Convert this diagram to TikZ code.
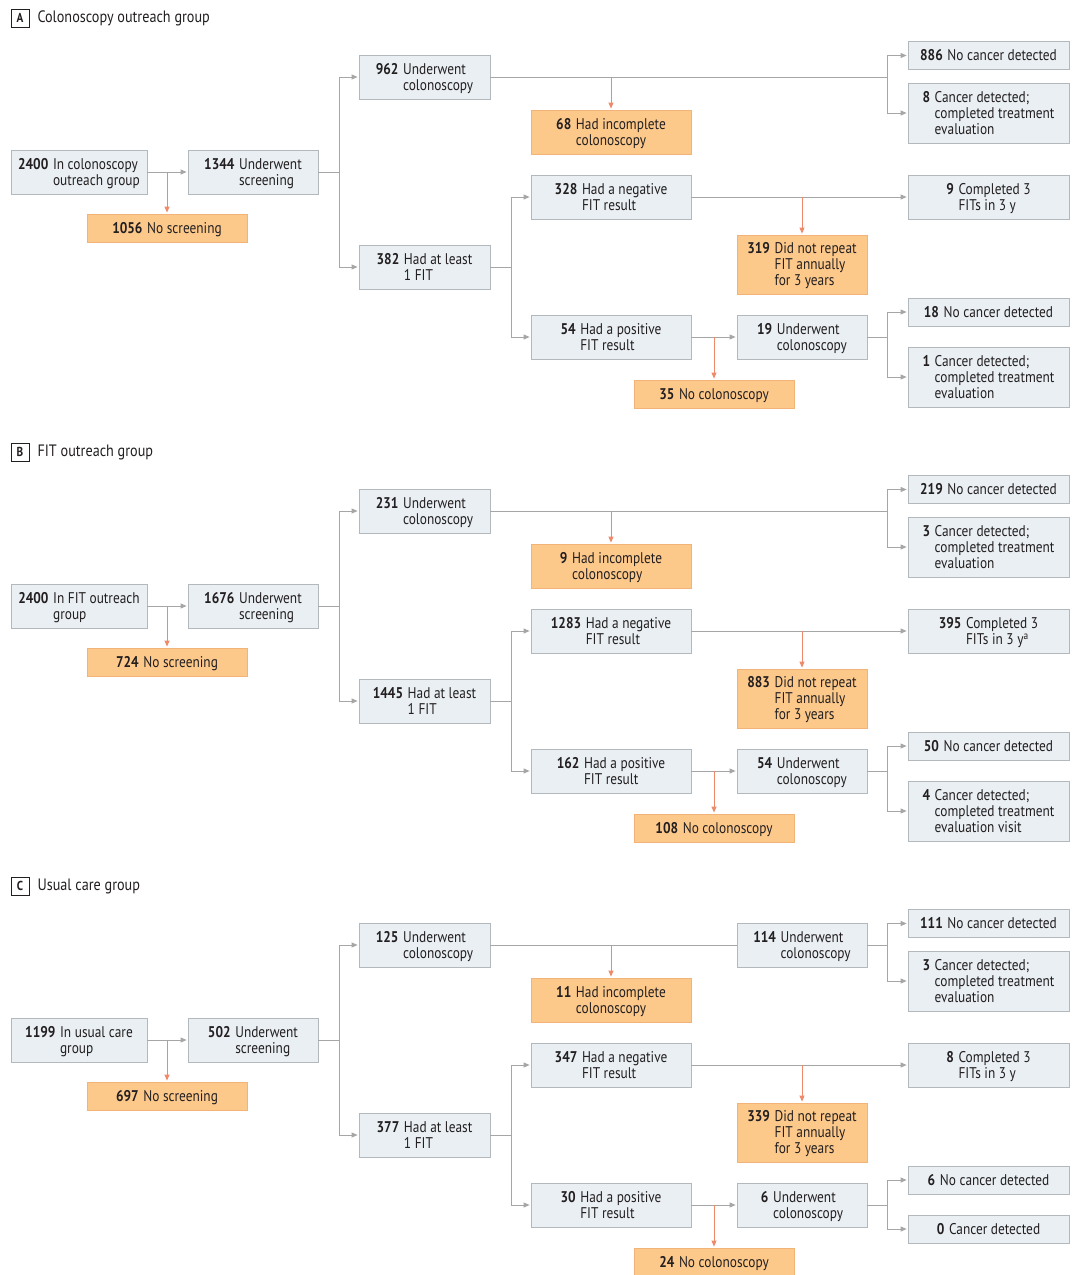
\documentclass[tikz,border=0pt]{standalone}
\usepackage{fontspec}
\setmainfont{PT Sans}[FakeStretch=0.86]
\usetikzlibrary{arrows.meta}

\definecolor{boxfill}{HTML}{E9EFF3}
\definecolor{boxline}{HTML}{B3B8BC}
\definecolor{lostfill}{HTML}{FDC98B}
\definecolor{lostline}{HTML}{F2B378}
\definecolor{flowline}{HTML}{A6A6A6}
\definecolor{dropline}{HTML}{EE8A6A}
\definecolor{ink}{HTML}{231F20}

% count in bold, text beside it
\newcommand{\fcnt}[2]{\rule{0pt}{15.6pt}\textbf{#1}\hspace{0.3em}\begin{tabular}[t]{@{}l@{}}#2\end{tabular}}

\tikzset{
  stage/.style={draw=boxline, fill=boxfill, line width=0.8pt, inner sep=0pt, minimum height=44, text=ink},
  lost/.style={stage, draw=lostline, fill=lostfill},
  flow/.style={draw=flowline, line width=0.9pt, -{Triangle[length=6pt,width=5pt]}, shorten >=1pt},
  drop/.style={draw=dropline, line width=0.9pt, -{Triangle[length=6pt,width=5pt]}, shorten >=1pt},
  tag/.style={draw=ink, line width=0.7pt, minimum size=18, inner sep=0pt, font=\bfseries\fontsize{13}{14}\selectfont, text=ink},
  title/.style={anchor=west, text=ink, font=\fontsize{16.5}{18}\selectfont}
}

\begin{document}
\begin{tikzpicture}[x=1pt, y=-1pt, font=\fontsize{15.5}{16}\selectfont]
  \useasboundingbox[fill=white] (0,0) rectangle (1074,1275);

  % A : colonoscopy outreach
  \node[tag] (aTag) at (20,18) {A};
  \node[title] (aTitle) at (34,18) {Colonoscopy outreach group};
  \node[stage, minimum width=136] (aStart) at (79,172) {\fcnt{2400}{In colonoscopy\\outreach group}};
  \node[stage, minimum width=130] (aScr) at (253,172) {\fcnt{1344}{Underwent\\screening}};
  \node[lost, minimum width=160, minimum height=28] (aNoScr) at (167,228) {\fcnt{1056}{No screening}};
  \node[stage, minimum width=131] (aColo) at (424.5,77) {\fcnt{962}{Underwent\\colonoscopy}};
  \node[stage, minimum width=131] (aFit) at (424.5,267) {\fcnt{382}{Had at least\\1 FIT}};
  \node[lost, minimum width=160] (aInc) at (611,132) {\fcnt{68}{Had incomplete\\colonoscopy}};
  \node[stage, minimum width=161, minimum height=28] (aNoCa) at (988.5,55.5) {\fcnt{886}{No cancer detected}};
  \node[stage, minimum width=161, minimum height=60] (aCa) at (988.5,113) {\fcnt{8}{Cancer detected;\\completed treatment\\evaluation}};
  \node[stage, minimum width=160] (aNeg) at (611,197) {\fcnt{328}{Had a negative\\FIT result}};
  \node[stage, minimum width=161] (aThree) at (988.5,197) {\fcnt{9}{Completed 3\\FITs in 3 y}};
  \node[lost, minimum width=130, minimum height=59] (aNoRep) at (802,264.5) {\fcnt{319}{Did not repeat\\FIT annually\\for 3 years}};
  \node[stage, minimum width=160] (aPos) at (611,337) {\fcnt{54}{Had a positive\\FIT result}};
  \node[stage, minimum width=130] (aPCol) at (802,337) {\fcnt{19}{Underwent\\colonoscopy}};
  \node[lost, minimum width=160, minimum height=28] (aNoCol) at (714,394) {\fcnt{35}{No colonoscopy}};
  \node[stage, minimum width=161, minimum height=28] (aPNoCa) at (988.5,312) {\fcnt{18}{No cancer detected}};
  \node[stage, minimum width=161, minimum height=60] (aPCa) at (988.5,377) {\fcnt{1}{Cancer detected;\\completed treatment\\evaluation}};

  \draw[flow] (aStart.east) -- (aScr.west);
  \draw[flow] (aScr.east) -- ++(21,0) |- (aColo.west);
  \draw[flow] (aScr.east) -- ++(21,0) |- (aFit.west);
  \coordinate (aJ1) at ([xshift=-20pt]aNoCa.west);
  \draw[flow] (aColo.east) -| (aJ1) -- (aNoCa.west);
  \draw[flow] (aJ1 |- aColo.east) |- (aCa.west);
  \draw[flow] (aFit.east) -- ++(21,0) |- (aNeg.west);
  \draw[flow] (aFit.east) -- ++(21,0) |- (aPos.west);
  \draw[flow] (aNeg.east) -- (aThree.west);
  \draw[flow] (aPos.east) -- (aPCol.west);
  \coordinate (aJ2) at ([xshift=-20pt]aPNoCa.west);
  \draw[flow] (aPCol.east) -| (aJ2) -- (aPNoCa.west);
  \draw[flow] (aJ2 |- aPCol.east) |- (aPCa.west);
  \draw[drop] (aNoScr.north |- aStart.east) -- (aNoScr.north);
  \draw[drop] (aInc.north |- aColo.east) -- (aInc.north);
  \draw[drop] (aNoRep.north |- aNeg.east) -- (aNoRep.north);
  \draw[drop] (aNoCol.north |- aPos.east) -- (aNoCol.north);

  % B : FIT outreach
  \begin{scope}[shift={(0,434)}]
  \node[tag] (bTag) at (20,18) {B};
  \node[title] (bTitle) at (34,18) {FIT outreach group};
  \node[stage, minimum width=136] (bStart) at (79,172) {\fcnt{2400}{In FIT outreach\\group}};
  \node[stage, minimum width=130] (bScr) at (253,172) {\fcnt{1676}{Underwent\\screening}};
  \node[lost, minimum width=160, minimum height=28] (bNoScr) at (167,228) {\fcnt{724}{No screening}};
  \node[stage, minimum width=131] (bColo) at (424.5,77) {\fcnt{231}{Underwent\\colonoscopy}};
  \node[stage, minimum width=131] (bFit) at (424.5,267) {\fcnt{1445}{Had at least\\1 FIT}};
  \node[lost, minimum width=160] (bInc) at (611,132) {\fcnt{9}{Had incomplete\\colonoscopy}};
  \node[stage, minimum width=161, minimum height=28] (bNoCa) at (988.5,55.5) {\fcnt{219}{No cancer detected}};
  \node[stage, minimum width=161, minimum height=60] (bCa) at (988.5,113) {\fcnt{3}{Cancer detected;\\completed treatment\\evaluation}};
  \node[stage, minimum width=160] (bNeg) at (611,197) {\fcnt{1283}{Had a negative\\FIT result}};
  \node[stage, minimum width=161] (bThree) at (988.5,197) {\fcnt{395}{Completed 3\\FITs in 3 y\textsuperscript{a}}};
  \node[lost, minimum width=130, minimum height=59] (bNoRep) at (802,264.5) {\fcnt{883}{Did not repeat\\FIT annually\\for 3 years}};
  \node[stage, minimum width=160] (bPos) at (611,337) {\fcnt{162}{Had a positive\\FIT result}};
  \node[stage, minimum width=130] (bPCol) at (802,337) {\fcnt{54}{Underwent\\colonoscopy}};
  \node[lost, minimum width=160, minimum height=28] (bNoCol) at (714,394) {\fcnt{108}{No colonoscopy}};
  \node[stage, minimum width=161, minimum height=28] (bPNoCa) at (988.5,312) {\fcnt{50}{No cancer detected}};
  \node[stage, minimum width=161, minimum height=60] (bPCa) at (988.5,377) {\fcnt{4}{Cancer detected;\\completed treatment\\evaluation visit}};

  \draw[flow] (bStart.east) -- (bScr.west);
  \draw[flow] (bScr.east) -- ++(21,0) |- (bColo.west);
  \draw[flow] (bScr.east) -- ++(21,0) |- (bFit.west);
  \coordinate (bJ1) at ([xshift=-20pt]bNoCa.west);
  \draw[flow] (bColo.east) -| (bJ1) -- (bNoCa.west);
  \draw[flow] (bJ1 |- bColo.east) |- (bCa.west);
  \draw[flow] (bFit.east) -- ++(21,0) |- (bNeg.west);
  \draw[flow] (bFit.east) -- ++(21,0) |- (bPos.west);
  \draw[flow] (bNeg.east) -- (bThree.west);
  \draw[flow] (bPos.east) -- (bPCol.west);
  \coordinate (bJ2) at ([xshift=-20pt]bPNoCa.west);
  \draw[flow] (bPCol.east) -| (bJ2) -- (bPNoCa.west);
  \draw[flow] (bJ2 |- bPCol.east) |- (bPCa.west);
  \draw[drop] (bNoScr.north |- bStart.east) -- (bNoScr.north);
  \draw[drop] (bInc.north |- bColo.east) -- (bInc.north);
  \draw[drop] (bNoRep.north |- bNeg.east) -- (bNoRep.north);
  \draw[drop] (bNoCol.north |- bPos.east) -- (bNoCol.north);
  \end{scope}

  % C : usual care
  \begin{scope}[shift={(0,868)}]
  \node[tag] (cTag) at (20,18) {C};
  \node[title] (cTitle) at (34,18) {Usual care group};
  \node[stage, minimum width=136] (cStart) at (79,172) {\fcnt{1199}{In usual care\\group}};
  \node[stage, minimum width=130] (cScr) at (253,172) {\fcnt{502}{Underwent\\screening}};
  \node[lost, minimum width=160, minimum height=28] (cNoScr) at (167,228) {\fcnt{697}{No screening}};
  \node[stage, minimum width=131] (cColo) at (424.5,77) {\fcnt{125}{Underwent\\colonoscopy}};
  \node[stage, minimum width=130] (cMid) at (802,77) {\fcnt{114}{Underwent\\colonoscopy}};
  \node[stage, minimum width=131] (cFit) at (424.5,267) {\fcnt{377}{Had at least\\1 FIT}};
  \node[lost, minimum width=160] (cInc) at (611,132) {\fcnt{11}{Had incomplete\\colonoscopy}};
  \node[stage, minimum width=161, minimum height=28] (cNoCa) at (988.5,55.5) {\fcnt{111}{No cancer detected}};
  \node[stage, minimum width=161, minimum height=60] (cCa) at (988.5,113) {\fcnt{3}{Cancer detected;\\completed treatment\\evaluation}};
  \node[stage, minimum width=160] (cNeg) at (611,197) {\fcnt{347}{Had a negative\\FIT result}};
  \node[stage, minimum width=161] (cThree) at (988.5,197) {\fcnt{8}{Completed 3\\FITs in 3 y}};
  \node[lost, minimum width=130, minimum height=59] (cNoRep) at (802,264.5) {\fcnt{339}{Did not repeat\\FIT annually\\for 3 years}};
  \node[stage, minimum width=160] (cPos) at (611,337) {\fcnt{30}{Had a positive\\FIT result}};
  \node[stage, minimum width=130] (cPCol) at (802,337) {\fcnt{6}{Underwent\\colonoscopy}};
  \node[lost, minimum width=160, minimum height=28] (cNoCol) at (714,394) {\fcnt{24}{No colonoscopy}};
  \node[stage, minimum width=161, minimum height=28] (cPNoCa) at (988.5,312) {\fcnt{6}{No cancer detected}};
  \node[stage, minimum width=161, minimum height=28] (cPCa) at (988.5,361) {\fcnt{0}{Cancer detected}};

  \draw[flow] (cStart.east) -- (cScr.west);
  \draw[flow] (cScr.east) -- ++(21,0) |- (cColo.west);
  \draw[flow] (cScr.east) -- ++(21,0) |- (cFit.west);
  \draw[draw=flowline, line width=0.9pt] (cColo.east) -- (cMid.west);
  \coordinate (cJ1) at ([xshift=-20pt]cNoCa.west);
  \draw[flow] (cMid.east) -| (cJ1) -- (cNoCa.west);
  \draw[flow] (cJ1 |- cMid.east) |- (cCa.west);
  \draw[flow] (cFit.east) -- ++(21,0) |- (cNeg.west);
  \draw[flow] (cFit.east) -- ++(21,0) |- (cPos.west);
  \draw[flow] (cNeg.east) -- (cThree.west);
  \draw[flow] (cPos.east) -- (cPCol.west);
  \coordinate (cJ2) at ([xshift=-20pt]cPNoCa.west);
  \draw[flow] (cPCol.east) -| (cJ2) -- (cPNoCa.west);
  \draw[flow] (cJ2 |- cPCol.east) |- (cPCa.west);
  \draw[drop] (cNoScr.north |- cStart.east) -- (cNoScr.north);
  \draw[drop] (cInc.north |- cColo.east) -- (cInc.north);
  \draw[drop] (cNoRep.north |- cNeg.east) -- (cNoRep.north);
  \draw[drop] (cNoCol.north |- cPos.east) -- (cNoCol.north);
  \end{scope}
\end{tikzpicture}
\end{document}
